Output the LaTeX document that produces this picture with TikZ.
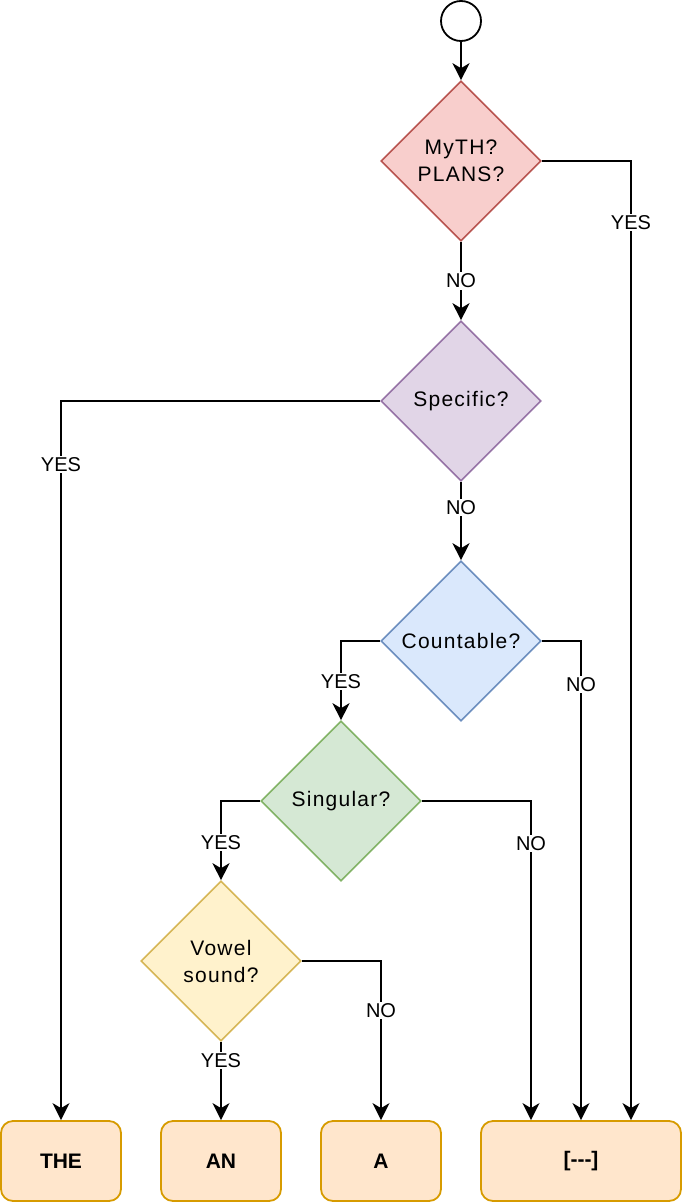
\documentclass[tikz,border=0pt]{standalone}
\usepackage{fontspec}
\setmainfont{Liberation Sans}
\newfontfamily\spacedfont[LetterSpace=6]{Liberation Sans}
\usetikzlibrary{shapes.geometric,arrows.meta}
\definecolor{redF}{HTML}{F8CECC}\definecolor{redD}{HTML}{B85450}
\definecolor{purF}{HTML}{E1D5E7}\definecolor{purD}{HTML}{9673A6}
\definecolor{bluF}{HTML}{DAE8FC}\definecolor{bluD}{HTML}{6C8EBF}
\definecolor{grnF}{HTML}{D5E8D4}\definecolor{grnD}{HTML}{82B366}
\definecolor{yelF}{HTML}{FFF2CC}\definecolor{yelD}{HTML}{D6B656}
\definecolor{orgF}{HTML}{FFE6CC}\definecolor{orgD}{HTML}{D79B00}
\tikzset{
  dec/.style={diamond, aspect=1, minimum width=160pt, minimum height=160pt, inner sep=0pt, line width=1.6pt, align=center, font=\spacedfont\fontsize{21}{27}\selectfont},
  endbox/.style={rectangle, rounded corners=12pt, minimum height=80pt, fill=orgF, draw=orgD, line width=1.8pt, font=\fontsize{21}{24}\selectfont\bfseries},
  arr/.style={line width=1.8pt, -{Stealth[length=17pt,width=17pt,inset=5pt]}},
  lbl/.style={fill=white, inner sep=1.5pt, font=\fontsize{20}{24}\selectfont}
}
\begin{document}
\begin{tikzpicture}[x=1pt,y=-1pt]
\useasboundingbox (0,0) rectangle (682,1202);
\node[circle, draw, line width=1.8pt, minimum size=40pt, inner sep=0pt] (s) at (461,21) {};
\node[dec, fill=redF, draw=redD] (d1) at (461,161) {MyTH?\\PLANS?};
\node[dec, fill=purF, draw=purD] (d2) at (461,401) {Specific?};
\node[dec, fill=bluF, draw=bluD] (d3) at (461,641) {Countable?};
\node[dec, fill=grnF, draw=grnD] (d4) at (341,801) {Singular?};
\node[dec, fill=yelF, draw=yelD] (d5) at (221,961) {Vowel\\sound?};
\node[endbox, minimum width=120pt] (the) at (61,1161) {THE};
\node[endbox, minimum width=120pt] (an) at (221,1161) {AN};
\node[endbox, minimum width=120pt] (a) at (381,1161) {A};
\node[endbox, minimum width=200pt] (none) at (581,1161) {[-{}-{}-]};
\coordinate (noneR) at ([xshift=50pt]none.north);
\coordinate (noneL) at ([xshift=-50pt]none.north);

\draw[arr] (s) -- (d1);
\draw[arr] (d1.east) -| node[lbl, pos=0.532] {YES} (noneR);
\draw[arr] (d1.south) -- node[lbl, pos=0.5] {NO} (d2.north);
\draw[arr] (d2.west) -| node[lbl, pos=0.544] {YES} (the.north);
\draw[arr] (d2.south) -- node[lbl, pos=0.325] {NO} (d3.north);
\draw[arr] (d3.west) -| node[lbl, pos=0.756] {YES} (d4.north);
\draw[arr] (d3.east) -| node[lbl, pos=0.545] {NO} (none.north);
\draw[arr] (d4.west) -| node[lbl, pos=0.76] {YES} (d5.north);
\draw[arr] (d4.east) -| node[lbl, pos=0.566] {NO} (noneL);
\draw[arr] (d5.south) -- node[lbl, pos=0.24] {YES} (an.north);
\draw[arr] (d5.east) -| node[lbl, pos=0.656] {NO} (a.north);
\end{tikzpicture}
\end{document}
